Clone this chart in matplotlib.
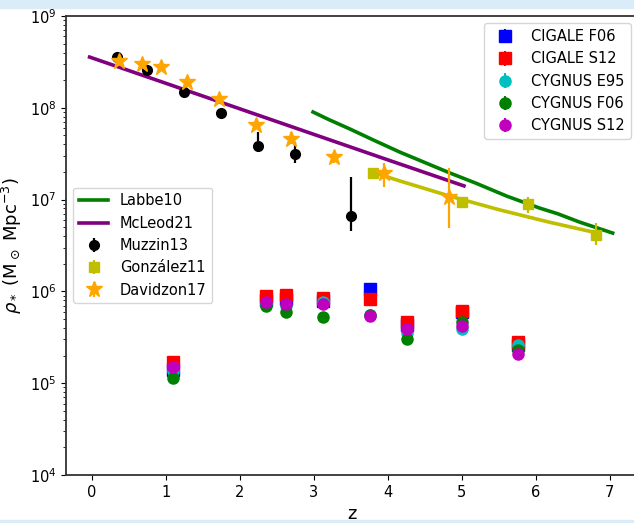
import matplotlib
matplotlib.use('Agg')
import matplotlib.pyplot as plt
from matplotlib.patches import Rectangle
import numpy as np

# stellar mass density fits
labbe_z = [2.99, 3.2, 3.49, 3.8, 4.16, 4.84, 5.2, 5.61, 6.05, 6.3, 6.59, 7.04]
labbe_rho = [9.0e7, 7.46e7, 5.87e7, 4.48e7, 3.30e7, 1.95e7, 1.50e7, 1.09e7, 8.1e6, 7.0e6, 5.7e6, 4.32e6]

mcleod_z = [-0.03, 1.0, 2.0, 3.0, 4.0, 5.03]
mcleod_rho = [3.57e8, 1.85e8, 9.75e7, 5.14e7, 2.71e7, 1.41e7]

gonz_line_z = [3.78, 4.16, 4.84, 5.51, 6.19, 6.82]
gonz_line_rho = [2.0e7, 1.60e7, 1.09e7, 7.74e6, 5.66e6, 4.35e6]

# literature measurements
muzzin_z = [0.34, 0.75, 1.25, 1.75, 2.25, 2.75, 3.5]
muzzin_rho = [3.6e8, 2.6e8, 1.5e8, 8.7e7, 3.8e7, 3.1e7, 6.7e6]
muzzin_lo = [0.3e8, 0.2e8, 0.1e8, 0.6e7, 0.5e7, 0.6e7, 2.2e6]
muzzin_hi = [0.3e8, 0.2e8, 0.1e8, 0.6e7, 1.6e7, 1.1e7, 11.1e6]

gonz_z = [3.8, 5.0, 5.9, 6.82]
gonz_rho = [1.95e7, 9.4e6, 8.9e6, 4.1e6]
gonz_lo = [1.5e6, 0.8e6, 1.7e6, 0.9e6]
gonz_hi = [1.5e6, 0.8e6, 1.8e6, 1.5e6]

david_z = [0.37, 0.68, 0.93, 1.29, 1.72, 2.22, 2.69, 3.28, 3.95, 4.83]
david_rho = [3.2e8, 3.0e8, 2.8e8, 1.9e8, 1.25e8, 6.5e7, 4.6e7, 2.9e7, 1.95e7, 1.07e7]
david_lo = [0.3e8, 0.3e8, 0.3e8, 0.2e8, 0.1e8, 0.6e7, 0.6e7, 0.4e7, 0.57e7, 0.58e7]
david_hi = [0.3e8, 0.3e8, 0.3e8, 0.2e8, 0.1e8, 1.0e7, 0.8e7, 0.4e7, 0.56e7, 1.12e7]

# SED fitting results
sed_z = [1.10, 2.35, 2.63, 3.12, 3.76, 4.26, 5.01, 5.76]
cigale_f06 = [1.40e5, 8.0e5, 8.2e5, 7.9e5, 1.07e6, 4.3e5, 6.0e5, 2.6e5]
cigale_s12 = [1.70e5, 8.9e5, 9.1e5, 8.5e5, 8.3e5, 4.6e5, 6.1e5, 2.8e5]
cygnus_e95 = [1.35e5, 7.2e5, 7.0e5, 7.6e5, 5.6e5, 3.5e5, 3.9e5, 2.6e5]
cygnus_f06 = [1.15e5, 6.9e5, 6.0e5, 5.3e5, 5.5e5, 3.0e5, 4.6e5, 2.3e5]
cygnus_s12 = [1.50e5, 7.6e5, 7.3e5, 7.3e5, 5.4e5, 3.9e5, 4.2e5, 2.1e5]

fig = plt.figure(figsize=(6.34, 5.23), dpi=100)
ax = fig.add_axes([0.104, 0.0918, 0.902, 0.8776])

l1, = ax.plot(labbe_z, labbe_rho, color='green', lw=2.6, label='Labbe10')
l2, = ax.plot(mcleod_z, mcleod_rho, color='purple', lw=2.6, label='McLeod21')
ax.plot(gonz_line_z, gonz_line_rho, color='y', lw=2.6)

e1 = ax.errorbar(muzzin_z, muzzin_rho, yerr=[muzzin_lo, muzzin_hi], fmt='o', color='k',
                 ms=7, elinewidth=1.6, label='Muzzin13')
e2 = ax.errorbar(gonz_z, gonz_rho, yerr=[gonz_lo, gonz_hi], fmt='s', color='y',
                 ms=7, elinewidth=1.6, label='González11')
e3 = ax.errorbar(david_z, david_rho, yerr=[david_lo, david_hi], fmt='*', color='orange',
                 ms=12, elinewidth=1.6, label='Davidzon17')

zero = np.zeros(len(sed_z))
s1 = ax.errorbar(sed_z, cigale_f06, yerr=zero, fmt='s', color='b', ms=8, label='CIGALE F06')
s2 = ax.errorbar(sed_z, cigale_s12, yerr=zero, fmt='s', color='r', ms=8, label='CIGALE S12')
s3 = ax.errorbar(sed_z, cygnus_e95, yerr=zero, fmt='o', color='c', ms=8, label='CYGNUS E95')
s4 = ax.errorbar(sed_z, cygnus_f06, yerr=zero, fmt='o', color='g', ms=8, label='CYGNUS F06')
s5 = ax.errorbar(sed_z, cygnus_s12, yerr=zero, fmt='o', color='m', ms=8, label='CYGNUS S12')

ax.set_yscale('log')
ax.set_ylim(1e4, 1e9)
ax.set_xlim(-0.35, 7.38)
ax.set_xticks(range(8))
ax.tick_params(labelsize=10.5)
for sp in ax.spines.values():
    sp.set_linewidth(1.3)
    sp.set_color('#333333')

ax.set_xlabel('z', fontsize=13)
ax.set_ylabel(r'$\rho_*$ (M$_\odot$ Mpc$^{-3}$)', fontsize=13)

leg1 = ax.legend(handles=[l1, l2, e1, e2, e3], loc='center left', fontsize=10.5)
ax.add_artist(leg1)
ax.legend(handles=[s1, s2, s3, s4, s5], loc='upper right', fontsize=10.5)

# light strips along the top and bottom edges
fig.patches.append(Rectangle((0, 1 - 8 / 523), 1, 8 / 523, transform=fig.transFigure,
                             color='#d9ecf8', zorder=-1))
fig.patches.append(Rectangle((0, 0), 1, 3 / 523, transform=fig.transFigure,
                             color='#d9ecf8', zorder=-1))

fig.savefig('out.png', dpi=100)
